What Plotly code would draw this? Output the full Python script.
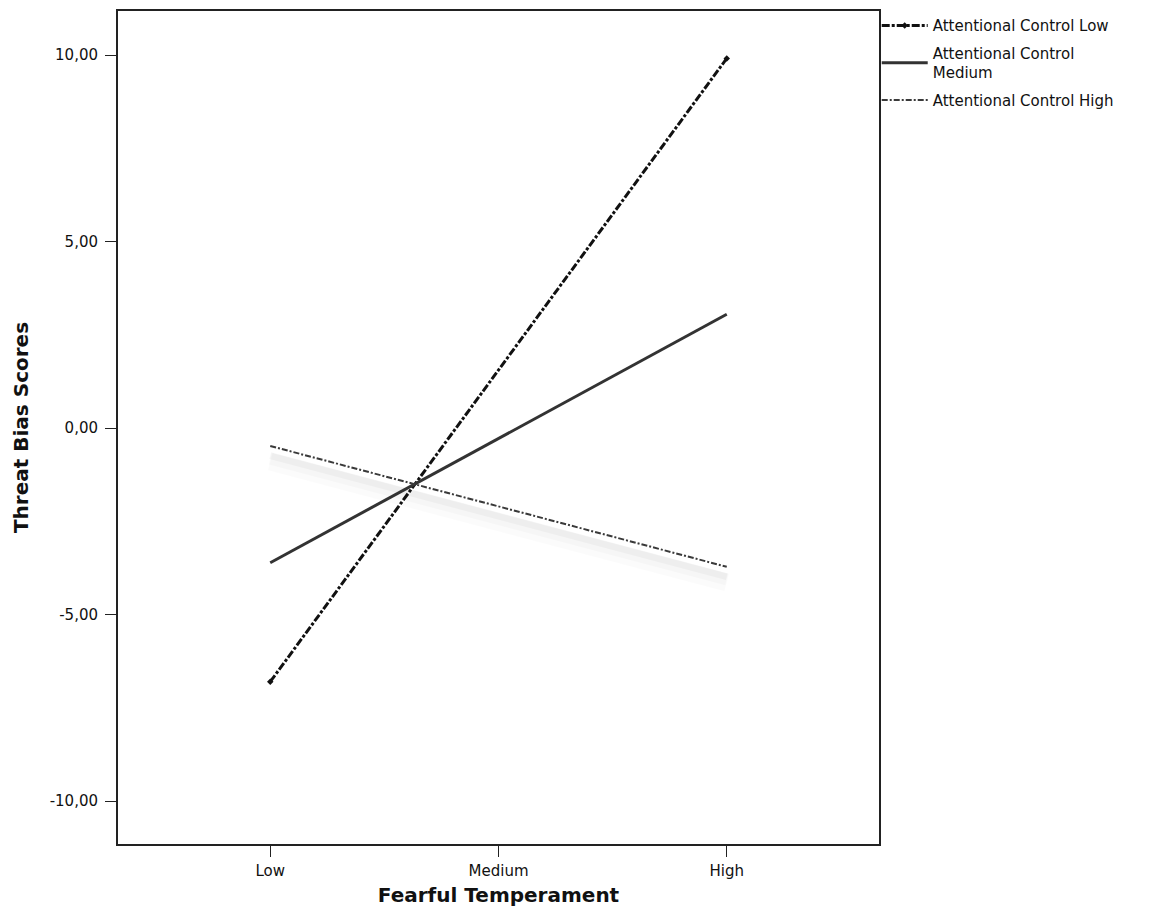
import plotly.graph_objects as go

# Fearful temperament levels (x categories) and tick labels
fear_levels = ["Low", "Medium", "High"]
fear_pos = [0, 1, 2]

# Estimated marginal means of threat bias at Low and High fearful temperament
ac_low = [-6.80, 9.91]
ac_medium = [-3.61, 3.05]
ac_high = [-0.48, -3.72]
end_pos = [0, 2]

y_ticks = [-10, -5, 0, 5, 10]
y_ticklabels = ["-10,00", "-5,00", "0,00", "5,00", "10,00"]

FONT = "DejaVu Sans, Liberation Sans, Arial"

fig = go.Figure()

# soft drop shadow under the high-control line
for w, a, off in [(18, 0.015, 0.42), (12, 0.02, 0.34), (7, 0.03, 0.26)]:
    fig.add_trace(go.Scatter(
        x=end_pos, y=[v - off for v in ac_high], mode="lines",
        line=dict(color=f"rgba(0,0,0,{a})", width=w),
        showlegend=False, hoverinfo="skip"))

fig.add_trace(go.Scatter(
    x=end_pos, y=ac_low, mode="lines+markers",
    name="Attentional Control Low", legendgroup="low",
    line=dict(color="#111111", width=3, dash="8px,2px,3px,2px"),
    marker=dict(symbol="diamond", size=5, color="#111111")))

fig.add_trace(go.Scatter(
    x=end_pos, y=ac_medium, mode="lines",
    name="Attentional Control<br>Medium", legendgroup="medium",
    line=dict(color="#333333", width=3)))

fig.add_trace(go.Scatter(
    x=end_pos, y=ac_high, mode="lines",
    name="Attentional Control High", legendgroup="high",
    line=dict(color="#3a3a3a", width=2, dash="6px,2px,2px,2px")))

axis_common = dict(
    showgrid=False, zeroline=False, showline=True, mirror=True,
    linecolor="#222222", linewidth=2, ticks="outside", ticklen=11,
    tickcolor="#222222", tickwidth=1,
    tickfont=dict(family=FONT, size=15, color="#111111"))

fig.update_xaxes(
    range=[-0.667, 2.667], tickvals=fear_pos, ticktext=fear_levels,
    ticklabelstandoff=1,
    title=dict(text="<b>Fearful Temperament</b>", standoff=9,
               font=dict(family=FONT, size=20, color="#111111")),
    **axis_common)
fig.update_yaxes(
    range=[-11.15, 11.18], tickvals=y_ticks, ticktext=y_ticklabels,
    ticklabelstandoff=4,
    title=dict(text="<b>Threat Bias Scores</b>", standoff=16,
               font=dict(family=FONT, size=20, color="#111111")),
    **axis_common)

fig.update_layout(
    width=1158, height=923,
    margin=dict(l=118, r=279, t=11, b=79, autoexpand=False),
    plot_bgcolor="white", paper_bgcolor="white",
    showlegend=True,
    legend=dict(x=0.997, xanchor="left", y=1.002, yanchor="top",
                bgcolor="rgba(0,0,0,0)", itemwidth=46, tracegroupgap=5,
                font=dict(family=FONT, size=15, color="#111111")),
)

fig.write_html("out.html")
